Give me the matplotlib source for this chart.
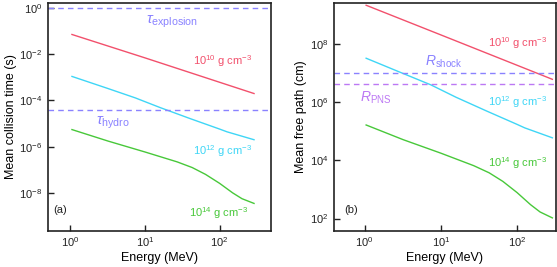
import numpy as np
import matplotlib
matplotlib.use('Agg')
import matplotlib.pyplot as plt

plt.rcParams['font.family'] = ['Liberation Sans', 'DejaVu Sans']
plt.rcParams['mathtext.fontset'] = 'custom'
plt.rcParams['mathtext.rm'] = 'Liberation Sans'
plt.rcParams['mathtext.it'] = 'Liberation Sans:italic'
plt.rcParams['mathtext.sf'] = 'Liberation Sans'

# energies (MeV) at which curves were read
energy_red = [1.05, 10, 290]
energy = [1.05, 3.1, 7.4, 15.8, 40, 100, 126, 290]
energy_green = [1.05, 3.2, 10, 27, 43, 65, 100, 150, 200, 290]

# (a) mean collision time (s)
tau_1e10 = [7.2e-2, 7.0e-3, 2.0e-4]
tau_1e12 = [1.1e-3, 3.4e-4, 1.3e-4, 5.0e-5, 1.66e-5, 5.8e-6, 4.4e-6, 2.0e-6]
tau_1e14 = [5.5e-6, 1.75e-6, 5.9e-7, 2.2e-7, 1.25e-7, 6.3e-8, 2.6e-8, 1.0e-8, 5.6e-9, 3.5e-9]
tau_explosion = 1.0
tau_hydro = 4.0e-5

# (b) mean free path (cm)
mfp_1e10 = [2.2e9, 2.1e8, 6.2e6]
mfp_1e12 = [3.3e7, 1.02e7, 4.0e6, 1.5e6, 5.0e5, 1.74e5, 1.32e5, 6.0e4]
mfp_1e14 = [1.66e5, 5.2e4, 1.78e4, 6.6e3, 3.75e3, 1.9e3, 7.8e2, 3.0e2, 1.68e2, 1.05e2]
r_shock = 1.05e7
r_pns = 4.2e6

red = '#f2506c'
cyan = '#3fd6f6'
green = '#48c83a'
blue = '#8a82ff'
violet = '#bc78f4'

fig = plt.figure(figsize=(5.57, 2.67), dpi=100)
ax1 = fig.add_axes([48 / 557, 36 / 267, 223 / 557, 228 / 267])
ax2 = fig.add_axes([334 / 557, 36 / 267, 222 / 557, 228 / 267])

# panel (a)
ax1.loglog(energy_red, tau_1e10, color=red, lw=1)
ax1.loglog(energy, tau_1e12, color=cyan, lw=1)
ax1.loglog(energy_green, tau_1e14, color=green, lw=1)
ax1.axhline(tau_explosion, color=blue, lw=1, ls=(0, (4, 3)))
ax1.axhline(tau_hydro, color=blue, lw=1, ls=(0, (4, 3)))
ax1.set_xlim(10 ** -0.3, 10 ** 2.69)
ax1.set_ylim(10 ** -9.65, 10 ** 0.22)
ax1.set_yticks([1e0, 1e-2, 1e-4, 1e-6, 1e-8])
ax1.set_xlabel('Energy (MeV)', fontsize=9, labelpad=2)
ax1.set_ylabel('Mean collision time (s)', fontsize=9, labelpad=2)

ax1.text(0.558, 0.918, r'$\tau_{\mathrm{explosion}}$', transform=ax1.transAxes,
         color=blue, fontsize=11, ha='center', va='center')
ax1.text(0.29, 0.475, r'$\tau_{\mathrm{hydro}}$', transform=ax1.transAxes,
         color=blue, fontsize=11, ha='center', va='center')
ax1.text(0.915, 0.745, r'$10^{10}$ g cm$^{-3}$', transform=ax1.transAxes,
         color=red, fontsize=8, ha='right', va='center')
ax1.text(0.915, 0.352, r'$10^{12}$ g cm$^{-3}$', transform=ax1.transAxes,
         color=cyan, fontsize=8, ha='right', va='center')
ax1.text(0.897, 0.08, r'$10^{14}$ g cm$^{-3}$', transform=ax1.transAxes,
         color=green, fontsize=8, ha='right', va='center')
ax1.text(0.022, 0.09, '(a)', transform=ax1.transAxes, fontsize=8,
         ha='left', va='center', color='#222222')

# panel (b)
ax2.loglog(energy_red, mfp_1e10, color=red, lw=1)
ax2.loglog(energy, mfp_1e12, color=cyan, lw=1)
ax2.loglog(energy_green, mfp_1e14, color=green, lw=1)
ax2.axhline(r_shock, color=blue, lw=1, ls=(0, (4, 3)))
ax2.axhline(r_pns, color=violet, lw=1, ls=(0, (4, 3)))
ax2.set_xlim(10 ** -0.4, 10 ** 2.51)
ax2.set_ylim(10 ** 1.57, 10 ** 9.42)
ax2.set_yticks([1e2, 1e4, 1e6, 1e8])
ax2.set_xlabel('Energy (MeV)', fontsize=9, labelpad=2)
ax2.set_ylabel('Mean free path (cm)', fontsize=9, labelpad=2)

ax2.text(0.493, 0.741, r'$R_{\mathrm{shock}}$', transform=ax2.transAxes,
         color=blue, fontsize=10, ha='center', va='center')
ax2.text(0.187, 0.583, r'$R_{\mathrm{PNS}}$', transform=ax2.transAxes,
         color=violet, fontsize=10, ha='center', va='center')
ax2.text(0.96, 0.825, r'$10^{10}$ g cm$^{-3}$', transform=ax2.transAxes,
         color=red, fontsize=8, ha='right', va='center')
ax2.text(0.96, 0.566, r'$10^{12}$ g cm$^{-3}$', transform=ax2.transAxes,
         color=cyan, fontsize=8, ha='right', va='center')
ax2.text(0.96, 0.298, r'$10^{14}$ g cm$^{-3}$', transform=ax2.transAxes,
         color=green, fontsize=8, ha='right', va='center')
ax2.text(0.044, 0.09, '(b)', transform=ax2.transAxes, fontsize=8,
         ha='left', va='center', color='#222222')

for ax in (ax1, ax2):
    ax.set_xticks([1e0, 1e1, 1e2])
    ax.minorticks_off()
    ax.tick_params(direction='in', length=4, width=1, labelsize=8, pad=3,
                   colors='#222222')
    ax.tick_params(axis='y', pad=4)
    for s in ax.spines.values():
        s.set_linewidth(1.2)
        s.set_color('#222222')

fig.savefig('out.png', dpi=100)
